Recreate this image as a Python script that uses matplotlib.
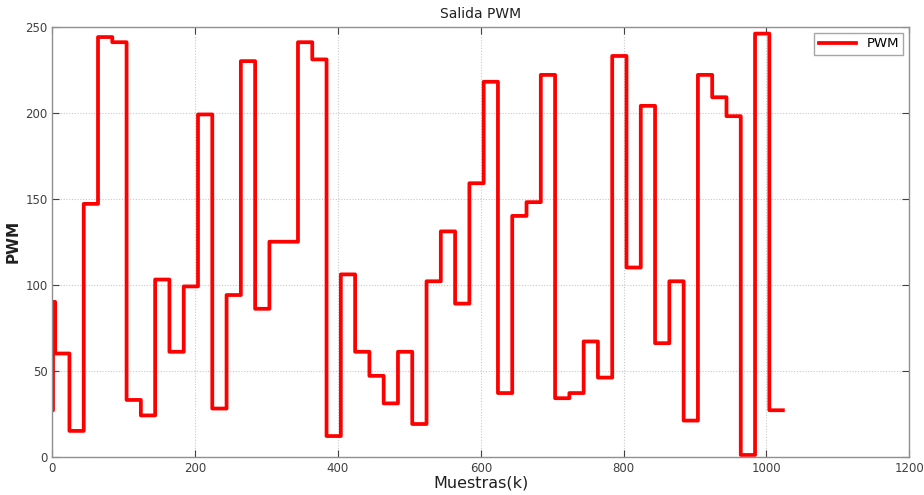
import numpy as np
import matplotlib
matplotlib.use("Agg")
import matplotlib.pyplot as plt

# PWM output: first few samples, then one value held for each 20-sample block
start_values = [27, 90, 90, 90]
block_values = [60, 15, 147, 244, 241, 33, 24, 103, 61, 99,
                199, 28, 94, 230, 86, 125, 125, 241, 231, 12,
                106, 61, 47, 31, 61, 19, 102, 131, 89, 159,
                218, 37, 140, 148, 222, 34, 37, 67, 46, 233,
                110, 204, 66, 102, 21, 222, 209, 198, 1, 246,
                27]
block_len = 20

pwm = np.concatenate([start_values, np.repeat(block_values, block_len)])
k = np.arange(len(pwm))

xticks = [0, 200, 400, 600, 800, 1000, 1200]
yticks = [0, 50, 100, 150, 200, 250]

fig = plt.figure(figsize=(9.24, 4.95), dpi=100)
ax = fig.add_axes([0.0566, 0.0774, 0.9275, 0.8686])

ax.plot(k, pwm, color="#ff0000", lw=2.7, drawstyle="steps-post",
        solid_joinstyle="round", label="PWM")

ax.set_xlim(0, 1200)
ax.set_ylim(0, 250)
ax.set_xticks(xticks)
ax.set_yticks(yticks)
ax.grid(True, color="#c8c8c8", linestyle=(0, (1, 1.5)), linewidth=0.8)
ax.tick_params(direction="in", top=True, right=True, labelsize=8.5,
               colors="#404040", length=5, width=0.8)
for s in ax.spines.values():
    s.set_color("#909090")
    s.set_linewidth(1.0)

ax.set_title("Salida PWM", fontsize=10, color="#202020", pad=6)
ax.set_xlabel("Muestras(k)", fontsize=11.5, color="#202020", labelpad=1)
ax.set_ylabel("PWM", fontsize=11, fontweight="bold", color="#202020", labelpad=3)

leg = ax.legend(loc="upper right", fontsize=9.5, frameon=True, fancybox=False,
                handlelength=2.8, borderaxespad=0.45, borderpad=0.35)
leg.get_frame().set_edgecolor("#909090")
leg.get_frame().set_linewidth(1.0)

fig.savefig("out.png", dpi=100)
